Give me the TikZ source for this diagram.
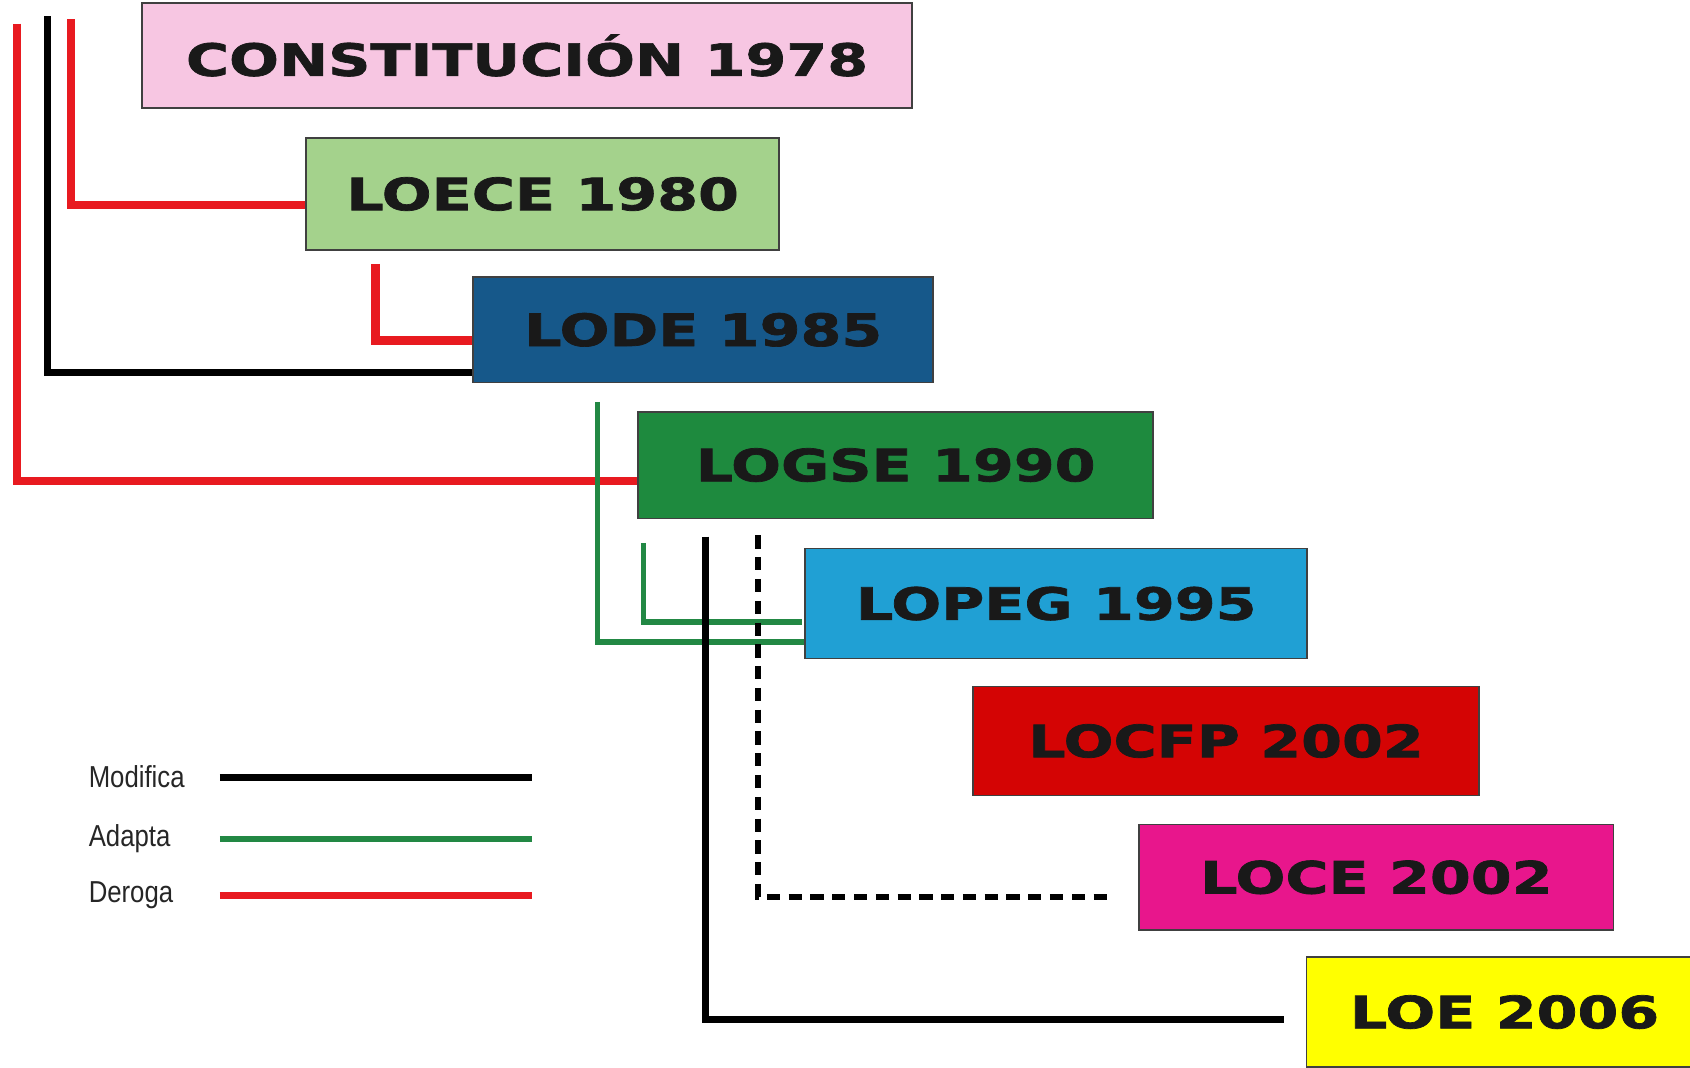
\documentclass[tikz,border=0pt]{standalone}
\usepackage{fontspec}
\usepackage{tikz}
\usetikzlibrary{positioning, calc}
\newfontfamily\boxfont{DejaVu Sans Bold}[FakeStretch=1.32, FakeBold=1.6]
\newfontfamily\legendfont{Liberation Sans}[FakeStretch=0.85]
\definecolor{pinkc}{RGB}{247,198,226}
\definecolor{lgreen}{RGB}{164,210,140}
\definecolor{dblue}{RGB}{22,88,138}
\definecolor{mgreen}{RGB}{30,138,62}
\definecolor{lblue}{RGB}{32,160,212}
\definecolor{redc}{RGB}{212,4,4}
\definecolor{magc}{RGB}{232,22,140}
\definecolor{yelc}{RGB}{255,255,0}
\definecolor{deroga}{RGB}{232,26,32}
\definecolor{adapta}{RGB}{34,136,68}
\begin{document}
\begin{tikzpicture}[x=0.02cm, y=-0.02cm,
    law/.style={draw=black!75, line width=0.9pt, font=\boxfont\fontsize{23.5}{28}\selectfont, text=black!90},
    modline/.style={draw=black, line width=3.8pt},
    adline/.style={draw=adapta, line width=2.9pt},
    derline/.style={draw=deroga, line width=4.4pt},
    dashline/.style={draw=black, line width=3.4pt, dash pattern=on 7pt off 4.5pt},
    leg/.style={anchor=west, inner sep=0pt, font=\legendfont\fontsize{16}{18}\selectfont, text=black!85}
]
\useasboundingbox (0,0) rectangle (1568,990);
\node[law, fill=pinkc, minimum width=14.28cm, minimum height=1.94cm] (const) at (489,51.5) {CONSTITUCIÓN 1978};
\node[law, fill=lgreen, minimum width=8.78cm, minimum height=2.08cm] (loece) at (503.5,180) {LOECE 1980};
\node[law, fill=dblue, minimum width=8.54cm, minimum height=1.96cm] (lode) at (652.5,306) {LODE 1985};
\node[law, fill=mgreen, minimum width=9.56cm, minimum height=1.98cm] (logse) at (831,431.5) {LOGSE 1990};
\node[law, fill=lblue, minimum width=9.32cm, minimum height=2.04cm] (lopeg) at (980,560) {LOPEG 1995};
\node[law, fill=redc, minimum width=9.38cm, minimum height=2.02cm] (locfp) at (1137.5,687.5) {LOCFP 2002};
\node[law, fill=magc, minimum width=8.80cm, minimum height=1.96cm] (loce) at (1277,814) {LOCE 2002};
\node[law, fill=yelc, minimum width=7.36cm, minimum height=2.04cm] (loe) at (1396,939) {LOE 2006};
\coordinate (d1) at (16,22);
\coordinate (m1) at (44,15);
\coordinate (d2) at (66,18);
\draw[derline] (d1) |- ($(logse.west)+(0,14.5)$);
\draw[modline] (m1) |- ($(lode.south west)+(0,-10)$);
\draw[derline] (d2) |- ($(loece.west)+(0,10)$);
\draw[derline] ($(loece.south west)+(65,12)$) |- ($(lode.west)+(0,10)$);
\draw[adline] ($(lode.south west)+(116,17)$) |- ($(lopeg.south west)+(0,-16)$);
\draw[adline] ($(logse.south west)+(6,22)$) |- ($(lopeg.west)+(-2,17)$);
\draw[modline] ($(logse.south west)+(63,16)$) |- ($(loe.west)+(-20,7)$);
\draw[dashline] ($(logse.south west)+(112,15)$) |- ($(loce.west)+(-24,18)$);
\node[leg] (lmod) at (82,721) {Modifica};
\node[leg] (lada) at (82,778) {Adapta};
\node[leg] (lder) at (82,831) {Deroga};
\draw[modline] (204,721) -- (494,721);
\draw[adline, line width=3.2pt] (204,778) -- (494,778);
\draw[derline, line width=3.8pt] (204,831) -- (494,831);
\end{tikzpicture}
\end{document}
